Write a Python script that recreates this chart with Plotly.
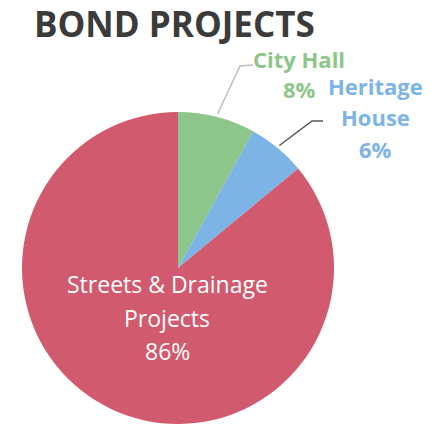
import math
import plotly.graph_objects as go

labels = ["City Hall", "Heritage House", "Streets & Drainage Projects"]
values = [8, 6, 86]
colors = ["#8DC68A", "#7DB4E6", "#D15A6E"]
label_lines = [["City Hall", "8%"], ["Heritage", "House", "6%"], ["Streets & Drainage", "Projects", "86%"]]
title = "BOND PROJECTS"

W, H = 431, 434
cx, cy, r = 178, 268, 156  # pie centre / radius in pixels


def px(x):
    return x / W


def py(y):
    return 1 - y / H


fig = go.Figure(go.Pie(
    labels=labels, values=values, sort=False, direction="clockwise", rotation=0,
    marker=dict(colors=colors, line=dict(width=0)),
    textinfo="none", hoverinfo="label+percent", showlegend=False,
    domain=dict(x=[px(cx - r), px(cx + r)], y=[py(cy + r), py(cy - r)]),
))

annotations = []
shapes = []

# title
annotations.append(dict(x=px(32), y=py(23), xref="paper", yref="paper", xanchor="left", yanchor="middle",
                        text="<b>%s</b>" % title, showarrow=False,
                        font=dict(family="Open Sans", size=35, color="#3B3B3B")))

# outside labels (City Hall, Heritage House)
label_pos = [(299, [59, 89]), (375, [86, 117, 149])]
line_cols = ["#BDBDBD", "#555555"]
elbows = [((240, 66), (253, 65)), ((312, 121), (323, 121))]
total = sum(values)
cum = 0
for i, v in enumerate(values):
    mid = (cum + v / 2) / total * 2 * math.pi
    cum += v
    if i < 2:
        lx, ys = label_pos[i]
        for line, yy in zip(label_lines[i], ys):
            annotations.append(dict(x=px(lx), y=py(yy), xref="paper", yref="paper", xanchor="center",
                                    yanchor="middle", text="<b>%s</b>" % line, showarrow=False,
                                    font=dict(family="Open Sans", size=22, color=colors[i])))
        sx = cx + (r + 3) * math.sin(mid)
        sy = cy - (r + 3) * math.cos(mid)
        (ex, ey), (hx, hy) = elbows[i]
        path = "M %f %f L %f %f L %f %f" % (px(sx), py(sy), px(ex), py(ey), px(hx), py(hy))
        shapes.append(dict(type="path", xref="paper", yref="paper", path=path,
                           line=dict(color=line_cols[i], width=1.5)))

# inside label
for line, yy in zip(label_lines[2], [284, 318, 351]):
    annotations.append(dict(x=px(167), y=py(yy), xref="paper", yref="paper", xanchor="center",
                            yanchor="middle", text=line, showarrow=False,
                            font=dict(family="Open Sans", size=23, color="white")))

fig.update_layout(width=W, height=H, margin=dict(l=0, r=0, t=0, b=0),
                  paper_bgcolor="white", plot_bgcolor="white",
                  annotations=annotations, shapes=shapes)
fig.write_html("out.html")
